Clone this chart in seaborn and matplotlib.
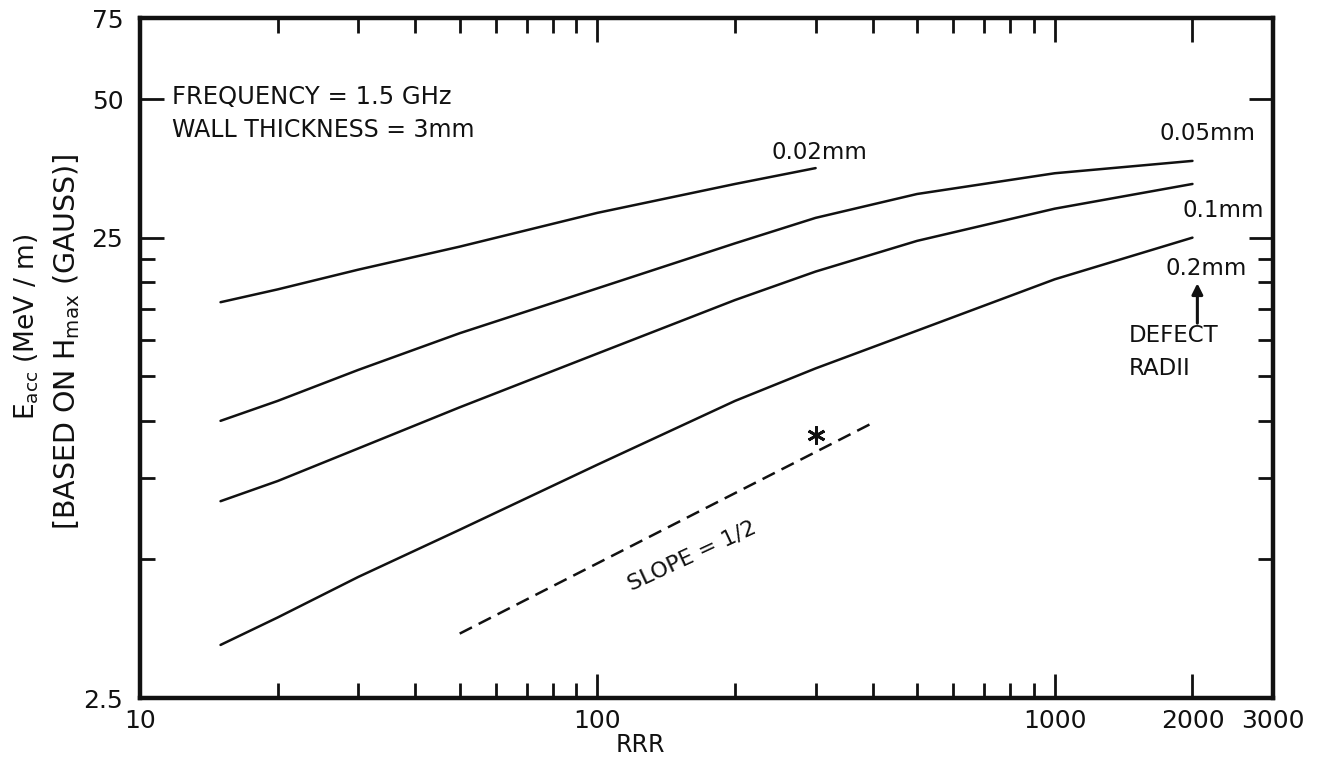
import numpy as np
import pandas as pd
import matplotlib
matplotlib.use("Agg")
import matplotlib.pyplot as plt
from matplotlib.ticker import NullFormatter
import seaborn as sns

# ---------------- data ----------------
radii = ["0.02mm", "0.05mm", "0.1mm", "0.2mm"]
rrr_02 = [15, 20, 30, 50, 100, 200, 300]
eacc_02 = [18.1, 19.3, 21.3, 23.9, 28.3, 32.7, 35.4]
rrr_long = [15, 20, 30, 50, 100, 200, 300, 500, 1000, 2000]
eacc_05 = [10.0, 11.05, 12.9, 15.5, 19.4, 24.3, 27.6, 31.1, 34.5, 36.7]
eacc_1 = [6.69, 7.40, 8.71, 10.7, 14.0, 18.3, 21.1, 24.6, 28.9, 32.7]
eacc_2 = [3.26, 3.74, 4.58, 5.80, 8.03, 11.05, 13.0, 15.7, 20.3, 25.0]
slope_rrr = [50, 400]
slope_eacc = [3.45, 9.9]
star_rrr = [300]
star_eacc = [9.3]

x_major = [10, 100, 1000, 2000, 3000]
x_major_labels = ["10", "100", "1000", "2000", "3000"]
x_minor = [20, 30, 40, 50, 60, 70, 80, 90, 200, 300, 400, 500, 600, 700, 800, 900]
y_major = [2.5, 25, 50, 75]
y_major_labels = ["2.5", "25", "50", "75"]
y_minor = [5, 7.5, 10, 12.5, 15, 17.5, 20, 22.5]

frames = []
for name, xs, ys in [(radii[0], rrr_02, eacc_02), (radii[1], rrr_long, eacc_05),
                     (radii[2], rrr_long, eacc_1), (radii[3], rrr_long, eacc_2)]:
    frames.append(pd.DataFrame({"RRR": xs, "Eacc": ys, "radius": name}))
df = pd.concat(frames, ignore_index=True)
slope_df = pd.DataFrame({"RRR": slope_rrr, "Eacc": slope_eacc})

# ---------------- style ----------------
sns.set_style("ticks")
plt.rcParams["font.family"] = ["DejaVu Sans"]
plt.rcParams["mathtext.fontset"] = "dejavusans"
plt.rcParams["xtick.direction"] = "in"
plt.rcParams["ytick.direction"] = "in"
INK = "#111111"

W, H = 1317, 758
fig = plt.figure(figsize=(W / 100, H / 100), dpi=100)
ax = fig.add_axes([140 / W, 1 - 698 / H, (1273 - 140) / W, (698 - 18) / H])

sns.lineplot(data=df, x="RRR", y="Eacc", hue="radius",
             palette={r: INK for r in radii}, legend=False,
             linewidth=1.8, ax=ax, estimator=None, sort=True)
sl = sns.lineplot(data=slope_df, x="RRR", y="Eacc", color=INK, linewidth=1.8,
                  ax=ax, estimator=None)
sl.lines[-1].set_dashes((5.5, 3.0))
ax.plot(star_rrr, star_eacc, linestyle="none", marker=(6, 2, 0),
        markersize=13, markeredgewidth=2.0, color=INK)

ax.set_xscale("log")
ax.set_yscale("log")
ax.set_xlim(10, 3000)
ax.set_ylim(2.5, 75)

ax.set_xticks(x_major)
ax.set_xticklabels(x_major_labels)
ax.set_xticks(x_minor, minor=True)
ax.xaxis.set_minor_formatter(NullFormatter())
ax.set_yticks(y_major)
ax.set_yticklabels(y_major_labels)
ax.set_yticks(y_minor, minor=True)
ax.yaxis.set_minor_formatter(NullFormatter())

ax.tick_params(which="both", direction="in", top=True, right=True,
               colors=INK, labelsize=18, width=2)
ax.tick_params(which="major", length=17)
ax.tick_params(which="minor", length=11)
ax.tick_params(axis="x", which="major", pad=8)
ax.tick_params(axis="y", which="major", pad=12)
for s in ax.spines.values():
    s.set_linewidth(3.2)
    s.set_color(INK)
    s.set_visible(True)

ax.set_xlabel("")
ax.set_ylabel("")

# ---------------- annotations ----------------
fs = 16.5
ax.text(0.028, 0.873, "FREQUENCY = 1.5 GHz", transform=ax.transAxes,
        fontsize=17.5, color=INK, va="baseline", ha="left")
ax.text(0.028, 0.825, "WALL THICKNESS = 3mm", transform=ax.transAxes,
        fontsize=17, color=INK, va="baseline", ha="left")

ax.text(240, 38.2, "0.02mm", fontsize=fs, color=INK, ha="left", va="center")
ax.text(1690, 42.0, "0.05mm", fontsize=fs, color=INK, ha="left", va="center")
ax.text(1905, 28.7, "0.1mm", fontsize=fs, color=INK, ha="left", va="center")
ax.text(1750, 21.4, "0.2mm", fontsize=fs, color=INK, ha="left", va="center")
ax.annotate("", xy=(2050, 19.9), xytext=(2050, 16.3),
            arrowprops=dict(arrowstyle="-|>", color=INK, lw=2.2,
                            mutation_scale=16, shrinkA=0, shrinkB=0))
ax.text(1452, 15.3, "DEFECT", fontsize=fs, color=INK, ha="left", va="center")
ax.text(1452, 13.0, "RADII", fontsize=fs, color=INK, ha="left", va="center")

ax.text(161, 5.1, "SLOPE = 1/2", fontsize=16, color=INK, rotation=25,
        rotation_mode="anchor", ha="center", va="center")

# axis titles
fig.text(27 / W, 1 - 327 / H, r"$\mathrm{E}_{\mathrm{acc}}$ (MeV / m)",
         rotation=90, fontsize=19, color=INK, ha="center", va="center")
fig.text(67 / W, 1 - 342 / H, r"[BASED ON $\mathrm{H}_{\mathrm{max}}$ (GAUSS)]",
         rotation=90, fontsize=20.5, color=INK, ha="center", va="center")
fig.text(640 / W, 1 - 757 / H, "RRR", fontsize=17, color=INK,
         ha="center", va="bottom")

fig.savefig("out.png", dpi=100, facecolor="white")
